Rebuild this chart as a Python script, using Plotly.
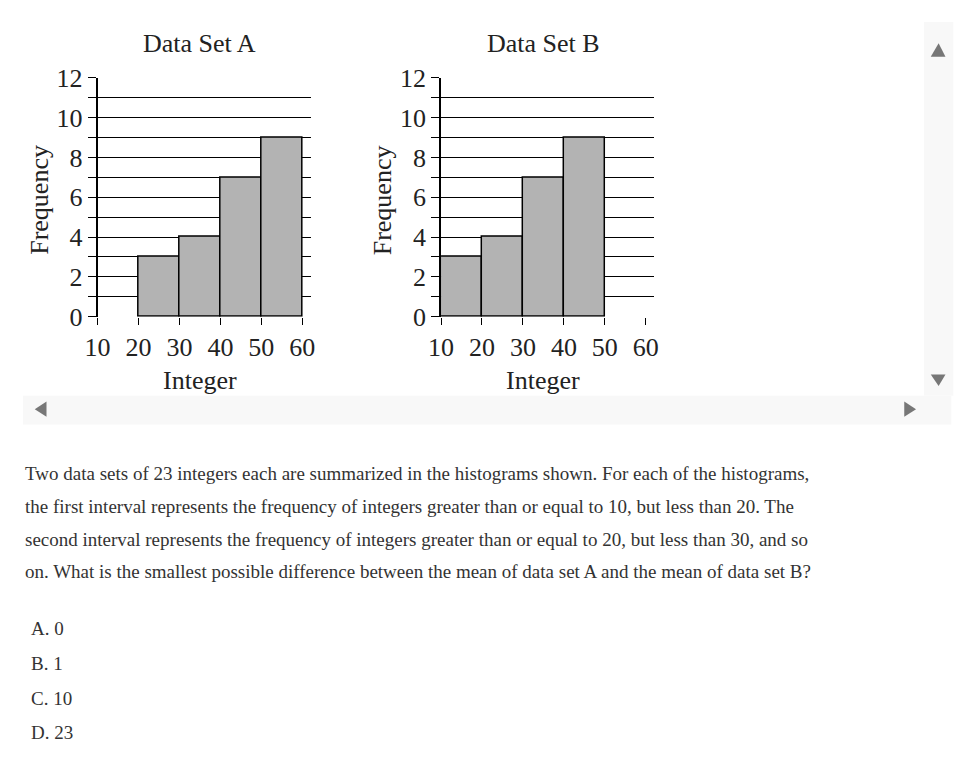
import plotly.graph_objects as go

W, H = 968, 784
bin_centers_A = [25, 35, 45, 55]
freq_A = [3, 4, 7, 9]
bin_centers_B = [15, 25, 35, 45]
freq_B = [3, 4, 7, 9]
x_ticks = [10, 20, 30, 40, 50, 60]
y_ticks = list(range(0, 13))
y_labels = [str(v) if v % 2 == 0 else "" for v in y_ticks]
titles = ["Data Set A", "Data Set B"]
question = [
    "Two data sets of 23 integers each are summarized in the histograms shown. For each of the histograms,",
    "the first interval represents the frequency of integers greater than or equal to 10, but less than 20. The",
    "second interval represents the frequency of integers greater than or equal to 20, but less than 30, and so",
    "on. What is the smallest possible difference between the mean of data set A and the mean of data set B?",
]
choices = ["A. 0", "B. 1", "C. 10", "D. 23"]

SERIF = "Liberation Serif"
DX, DY = -10, -10
def px(x): return (x + DX) / W
def py(y): return 1 - (y + DY) / H

fig = go.Figure()
fig.add_trace(go.Bar(x=bin_centers_A, y=freq_A, width=10, marker=dict(color="#b3b3b3", line=dict(color="black", width=1.5)), xaxis="x", yaxis="y", showlegend=False))
fig.add_trace(go.Bar(x=bin_centers_B, y=freq_B, width=10, marker=dict(color="#b3b3b3", line=dict(color="black", width=1.5)), xaxis="x2", yaxis="y2", showlegend=False))

ydom = [py(316), py(68)]
common_x = dict(range=[10, 62], tickvals=x_ticks, ticks="outside", ticklen=7, tickcolor="black",
                showgrid=False, zeroline=False, showline=False,
                tickfont=dict(family=SERIF, size=26, color="#222"), fixedrange=True)
common_y = dict(range=[0, 12], tickvals=y_ticks, ticktext=y_labels, ticks="outside", ticklen=8, tickcolor="black",
                showgrid=True, gridcolor="black", gridwidth=1.2, zeroline=False, showline=True, linecolor="black", linewidth=1.5,
                tickfont=dict(family=SERIF, size=26, color="#222"), domain=ydom, fixedrange=True)

fig.update_layout(
    width=W, height=H, margin=dict(l=0, r=0, t=0, b=0),
    paper_bgcolor="white", plot_bgcolor="white", bargap=0,
    xaxis=dict(domain=[px(88), px(305)], anchor="y", **common_x),
    yaxis=dict(anchor="x", **common_y),
    xaxis2=dict(domain=[px(438), px(655)], anchor="y2", **common_x),
    yaxis2=dict(anchor="x2", **common_y),
)

shapes = [
    dict(type="rect", xref="paper", yref="paper", x0=px(12), x1=px(958), y0=py(428), y1=py(398), fillcolor="#f8f8f8", line=dict(width=0), layer="below"),
    dict(type="rect", xref="paper", yref="paper", x0=px(930), x1=px(960), y0=py(398), y1=py(10), fillcolor="#f8f8f8", line=dict(width=0), layer="below"),
    dict(type="path", xref="paper", yref="paper", path=f"M {px(937)},{py(46)} L {px(952)},{py(46)} L {px(945)},{py(32)} Z", fillcolor="#777", line=dict(width=0)),
    dict(type="path", xref="paper", yref="paper", path=f"M {px(937)},{py(376)} L {px(952)},{py(376)} L {px(945)},{py(388)} Z", fillcolor="#777", line=dict(width=0)),
    dict(type="path", xref="paper", yref="paper", path=f"M {px(36)},{py(404)} L {px(36)},{py(420)} L {px(24)},{py(412)} Z", fillcolor="#777", line=dict(width=0)),
    dict(type="path", xref="paper", yref="paper", path=f"M {px(910)},{py(404)} L {px(910)},{py(420)} L {px(922)},{py(412)} Z", fillcolor="#777", line=dict(width=0)),
]
fig.update_layout(shapes=shapes)

def note(text, x, y, size, xanchor="center", angle=0, color="#222"):
    return dict(text=text, x=px(x), y=py(y), xref="paper", yref="paper", xanchor=xanchor, yanchor="middle",
                showarrow=False, textangle=angle, font=dict(family=SERIF, size=size, color=color))

ann = []
for t, cx in zip(titles, [192, 542]):
    ann.append(note(t, cx, 32, 26))
    ann.append(note("Integer", cx, 382, 26))
for lx in [28, 378]:
    ann.append(note("Frequency", lx, 195, 26, angle=-90))
for i, line in enumerate(question):
    ann.append(note(line, 12, 479 + 34 * i, 19, xanchor="left", color="#333"))
for i, c in enumerate(choices):
    ann.append(note(c, 18, 640 + 36 * i, 19, xanchor="left", color="#333"))
fig.update_layout(annotations=ann)

fig.write_html("out.html")
